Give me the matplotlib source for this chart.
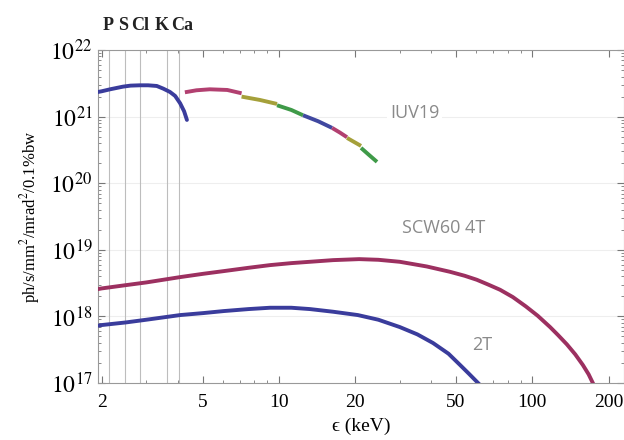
import numpy as np
import matplotlib
matplotlib.use("Agg")
import matplotlib.pyplot as plt
from matplotlib.ticker import FixedLocator, FixedFormatter, LogLocator, NullFormatter

plt.rcParams["mathtext.fontset"] = "stix"
plt.rcParams["font.family"] = ["Liberation Serif", "DejaVu Serif"]

# absorption edges (keV)
edge_names = ["P", "S", "Cl", "K", "Ca"]
edge_energies = [2.145, 2.472, 2.822, 3.607, 4.038]

# IUV19 below 4.3 keV (log10 of brilliance)
iuv_low_e = [1.935, 2.0, 2.16, 2.43, 2.6, 2.83, 3.05, 3.3, 3.5, 3.72, 3.9, 4.08, 4.23, 4.34]
iuv_low_l = [21.37, 21.38, 21.41, 21.45, 21.465, 21.47, 21.47, 21.46, 21.42, 21.37, 21.31, 21.20, 21.08, 20.95]

# IUV19 harmonic segments
iuv_seg_e = [
    [4.26, 4.73, 5.34, 6.26, 7.13],
    [7.13, 8.42, 9.84],
    [9.84, 11.2, 12.46],
    [12.46, 14.3, 16.23],
    [16.23, 17.42, 18.58],
    [18.58, 19.8, 21.1],
    [21.1, 22.6, 24.4],
]
iuv_seg_l = [
    [21.365, 21.395, 21.41, 21.40, 21.35],
    [21.30, 21.25, 21.19],
    [21.17, 21.10, 21.02],
    [21.02, 20.93, 20.83],
    [20.83, 20.76, 20.69],
    [20.68, 20.62, 20.56],
    [20.53, 20.43, 20.32],
]
iuv_seg_colors = ["#b24070", "#a5a03a", "#3f9a48", "#4048a0", "#b24070", "#a5a03a", "#3f9a48"]

# SCW60 4T
scw4_e = [1.935, 2.0, 2.5, 3.0, 4.08, 5.04, 6.06, 7.6, 9.23, 11.2, 13.27, 16.38, 20.75, 24.7, 30.0, 38.3,
          47.3, 54.1, 60.4, 66.8, 74.6, 83.8, 94.3, 105.0, 117.5, 126.3, 136.9, 147.7, 158.3, 166.8, 173.3]
scw4_l = [18.41, 18.42, 18.47, 18.51, 18.59, 18.64, 18.68, 18.73, 18.77, 18.80, 18.82, 18.845, 18.86, 18.85, 18.82, 18.75,
          18.67, 18.61, 18.55, 18.48, 18.40, 18.29, 18.15, 18.01, 17.84, 17.72, 17.58, 17.43, 17.27, 17.13, 17.0]

# SCW60 2T
scw2_e = [1.935, 2.0, 2.5, 3.0, 4.08, 5.04, 6.06, 7.6, 9.23, 11.2, 13.27, 16.38, 20.5, 24.7, 30.0, 35.2,
          40.6, 46.7, 51.9, 56.2, 61.1]
scw2_l = [17.86, 17.87, 17.91, 17.95, 18.02, 18.05, 18.08, 18.11, 18.13, 18.13, 18.11, 18.07, 18.02, 17.95, 17.84, 17.73,
          17.60, 17.44, 17.27, 17.14, 17.0]

x_ticks = [2, 5, 10, 20, 50, 100, 200]
y_ticks = [1e17, 1e18, 1e19, 1e20, 1e21, 1e22]

fig = plt.figure(figsize=(6.24, 4.40), dpi=100)
ax = fig.add_axes([98 / 624, 57 / 440, 526 / 624, 333 / 440])
ax.set_xscale("log")
ax.set_yscale("log")
ax.set_xlim(1.935, 230)
ax.set_ylim(1e17, 1e22)

# faint horizontal grid
for y in y_ticks[1:-1]:
    ax.axhline(y, color="#eeeeee", lw=0.8, zorder=0)

# edge lines
for e in edge_energies:
    ax.axvline(e, color="#bdbdbd", lw=0.8, zorder=1)

# edge labels above the frame (pixel positions in the figure)
for name, px in zip(edge_names, [108, 123, 140, 162, 182]):
    fig.text(px / 624, 1 - 26 / 440, name, ha="center", va="center",
             fontsize=13, fontweight="bold", color="#222222")

lw = 2.8
ax.plot(iuv_low_e, 10 ** np.array(iuv_low_l), color="#3a3c9c", lw=lw, solid_capstyle="round", zorder=3)
for es, ls, c in zip(iuv_seg_e, iuv_seg_l, iuv_seg_colors):
    ax.plot(es, 10 ** np.array(ls), color=c, lw=lw, solid_capstyle="butt", zorder=3)
ax.plot(scw4_e, 10 ** np.array(scw4_l), color="#9c3060", lw=lw, zorder=3)
ax.plot(scw2_e, 10 ** np.array(scw2_l), color="#3a3c9c", lw=lw, zorder=3)

lab = dict(fontsize=13, color="#8a8a8a", family=["Open Sans", "DejaVu Sans"],
           va="center", ha="left",
           bbox=dict(facecolor="white", edgecolor="none", pad=2), zorder=4)
ax.text(27.5, 10 ** 21.05, "IUV19", **lab)
ax.text(30.6, 10 ** 19.32, "SCW60 4T", **lab)
ax.text(57.8, 10 ** 17.57, "2T", **lab)

ax.xaxis.set_major_locator(FixedLocator(x_ticks))
ax.xaxis.set_major_formatter(FixedFormatter([str(t) for t in x_ticks]))
ax.xaxis.set_minor_locator(LogLocator(base=10, subs=np.arange(2, 10)))
ax.xaxis.set_minor_formatter(NullFormatter())
ax.yaxis.set_major_locator(FixedLocator(y_ticks))
ax.yaxis.set_major_formatter(FixedFormatter([r"$10^{%d}$" % int(np.log10(t)) for t in y_ticks]))
ax.yaxis.set_minor_locator(LogLocator(base=10, subs=np.arange(2, 10)))
ax.yaxis.set_minor_formatter(NullFormatter())

ax.tick_params(which="both", direction="in", top=True, right=True, color="#777777")
ax.tick_params(which="major", length=5, width=0.8)
ax.tick_params(which="minor", length=2.5, width=0.6)
ax.tick_params(axis="x", labelsize=14, pad=8)
ax.tick_params(axis="y", labelsize=17, pad=4)
for s in ax.spines.values():
    s.set_color("#999999")
    s.set_linewidth(0.8)

ax.set_xlabel("ϵ (keV)", fontsize=14, labelpad=5)
ax.set_ylabel(r"ph/s/mm$^2$/mrad$^2$/0.1%bw", fontsize=12, labelpad=6)

fig.savefig("out.png", dpi=100)
